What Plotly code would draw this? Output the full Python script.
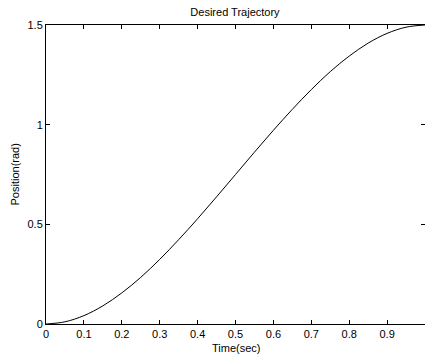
import plotly.graph_objects as go

time_sec = [0, 0.05, 0.1, 0.15, 0.2, 0.25, 0.3, 0.35, 0.4, 0.45, 0.5,
            0.55, 0.6, 0.65, 0.7, 0.75, 0.8, 0.85, 0.9, 0.95, 1.0]
position_rad = [0, 0.011, 0.042, 0.091, 0.156, 0.234, 0.324, 0.423, 0.528, 0.638, 0.75,
                0.862, 0.972, 1.077, 1.176, 1.266, 1.344, 1.409, 1.458, 1.489, 1.5]

x_ticks = [0, 0.1, 0.2, 0.3, 0.4, 0.5, 0.6, 0.7, 0.8, 0.9, 1]
x_tick_labels = ["0", "0.1", "0.2", "0.3", "0.4", "0.5", "0.6", "0.7", "0.8", "0.9", "1"]
y_ticks = [0, 0.5, 1, 1.5]
y_tick_labels = ["0", "0.5", "1", "1.5"]

W, H = 425, 358
L, R, T, B = 46, 0, 25, 34
plot_w = W - L - R
plot_h = H - T - B

fig = go.Figure()
fig.add_trace(go.Scatter(x=time_sec, y=position_rad, mode="lines",
                         line=dict(color="black", width=1, shape="spline"),
                         showlegend=False))

font = dict(family="Liberation Sans, Arial, sans-serif", size=11, color="black")
fig.update_layout(
    width=W, height=H,
    margin=dict(l=L, r=R, t=T, b=B),
    paper_bgcolor="white", plot_bgcolor="white",
    font=font,
    title=dict(text="Desired Trajectory", x=235 / W, xanchor="center",
               y=1 - 12 / H, yanchor="middle", font=dict(size=11)),
    annotations=[
        dict(text="Time(sec)", xref="paper", yref="paper",
             x=0.5, y=(H - B - 348) / plot_h, xanchor="center", yanchor="middle",
             showarrow=False, font=dict(size=11)),
        dict(text="Position(rad)", xref="paper", yref="paper",
             x=(14 - L) / plot_w, y=0.5, xanchor="center", yanchor="middle",
             textangle=-90, showarrow=False, font=dict(size=11)),
    ],
)
fig.update_xaxes(range=[0, 1], tickvals=x_ticks, ticktext=x_tick_labels,
                 showline=True, linecolor="black", linewidth=1, mirror="ticks",
                 ticks="inside", ticklen=4, tickcolor="black", showgrid=False,
                 zeroline=False)
fig.update_yaxes(range=[0, 1.5], tickvals=y_ticks, ticktext=y_tick_labels,
                 showline=True, linecolor="black", linewidth=1, mirror="ticks",
                 ticks="inside", ticklen=4, tickcolor="black", showgrid=False,
                 zeroline=False)

fig.write_html("out.html")
